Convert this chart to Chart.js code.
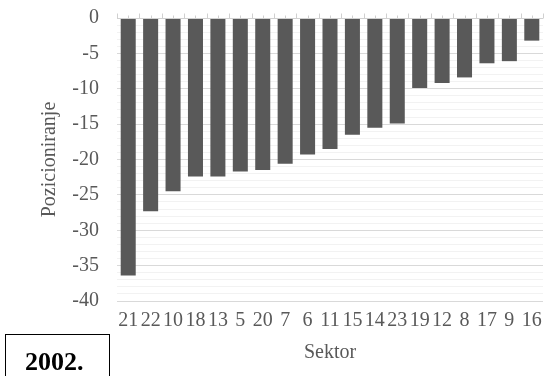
<!DOCTYPE html>
<html>
<head>
<meta charset="utf-8">
<script src="https://cdn.jsdelivr.net/npm/chart.js@4/dist/chart.umd.min.js"></script>
<style>
  html, body { margin: 0; padding: 0; background: #fff; }
  #wrap { position: relative; width: 544px; height: 376px; overflow: hidden; }
  #yearBox {
    position: absolute; left: 5px; top: 334px; width: 105px; height: 60px;
    border: 1px solid #000; box-sizing: border-box;
    font: bold 26px "Liberation Serif", "Times New Roman", serif;
    color: #000; padding: 12px 0 0 19px;
  }
</style>
</head>
<body>
<div id="wrap">
  <canvas id="chart" width="544" height="376"></canvas>
  <div id="yearBox">2002.</div>
</div>
<script>
// --- DATA ---
const sectors = ["21", "22", "10", "18", "13", "5", "20", "7", "6", "11", "15", "14", "23", "19", "12", "8", "17", "9", "16"];
const positions = [-36.4, -27.3, -24.5, -22.4, -22.4, -21.7, -21.5, -20.6, -19.3, -18.5, -16.5, -15.5, -14.9, -9.9, -9.2, -8.4, -6.4, -6.1, -3.2];
const yMin = -40;
const yMax = 0;
const majorStep = 5;

const FONT = "'Liberation Serif', 'Times New Roman', serif";
const TEXT = "#595959";
const SIZE = 20;

// draws the Excel-style tick marks on the category axis at the zero line
const topTicks = {
    id: "topTicks",
    afterDatasetsDraw(chart) {
        const x = chart.scales.x;
        const y = chart.scales.y;
        const ctx = chart.ctx;
        const y0 = Math.round(y.getPixelForValue(0)) + 0.5;
        const half = (x.getPixelForValue(1) - x.getPixelForValue(0)) / 2;
        ctx.save();
        ctx.strokeStyle = "#d0d0d0";
        ctx.lineWidth = 1;
        ctx.beginPath();
        ctx.moveTo(chart.chartArea.left, y0);
        ctx.lineTo(chart.chartArea.right, y0);
        for (let i = 0; i < sectors.length; i++) {
            const c = x.getPixelForValue(i);
            const b = Math.round(c - half) + 0.5;
            ctx.moveTo(b, y0);
            ctx.lineTo(b, y0 - 5);
            const m = Math.round(c) + 0.5;
            ctx.moveTo(m, y0);
            ctx.lineTo(m, y0 - 3);
        }
        const last = Math.round(x.getPixelForValue(sectors.length - 1) + half) + 0.5;
        ctx.moveTo(last, y0);
        ctx.lineTo(last, y0 - 5);
        ctx.stroke();
        ctx.restore();
    }
};

new Chart(document.getElementById("chart"), {
    type: "bar",
    data: {
        labels: sectors,
        datasets: [{
            data: positions,
            backgroundColor: "#595959",
            borderWidth: 0,
            categoryPercentage: 1,
            barPercentage: 0.67
        }]
    },
    options: {
        responsive: false,
        animation: false,
        layout: { padding: { left: 0, right: 1, top: 18, bottom: 0 } },
        plugins: {
            legend: { display: false },
            tooltip: { enabled: false }
        },
        scales: {
            x: {
                offset: true,
                grid: { display: false, drawTicks: false },
                border: { display: false },
                ticks: {
                    color: TEXT,
                    font: { family: FONT, size: SIZE },
                    padding: 8,
                    autoSkip: false,
                    maxRotation: 0
                },
                title: {
                    display: true,
                    text: "Sektor",
                    color: TEXT,
                    font: { family: FONT, size: SIZE },
                    padding: { top: 0, bottom: 11 }
                },
                afterFit(scale) {
                    scale.height = 75;
                    scale.paddingLeft = 0;
                    scale.paddingRight = 0;
                }
            },
            y: {
                min: yMin,
                max: yMax,
                grid: {
                    drawTicks: false,
                    color: ctx => (ctx.tick && ctx.tick.value % majorStep === 0) ? "#d9d9d9" : "#f2f2f2"
                },
                border: { display: false },
                ticks: {
                    stepSize: 1,
                    autoSkip: false,
                    color: TEXT,
                    font: { family: FONT, size: SIZE },
                    padding: 18,
                    callback: v => (v % majorStep === 0 ? String(v) : "")
                },
                title: {
                    display: true,
                    text: "Pozicioniranje",
                    color: TEXT,
                    font: { family: FONT, size: SIZE },
                    padding: { top: 38, bottom: 0 }
                },
                afterFit(scale) {
                    scale.width = 117;
                    scale.paddingTop = 0;
                    scale.paddingBottom = 0;
                }
            }
        }
    },
    plugins: [topTicks]
});
</script>
</body>
</html>
